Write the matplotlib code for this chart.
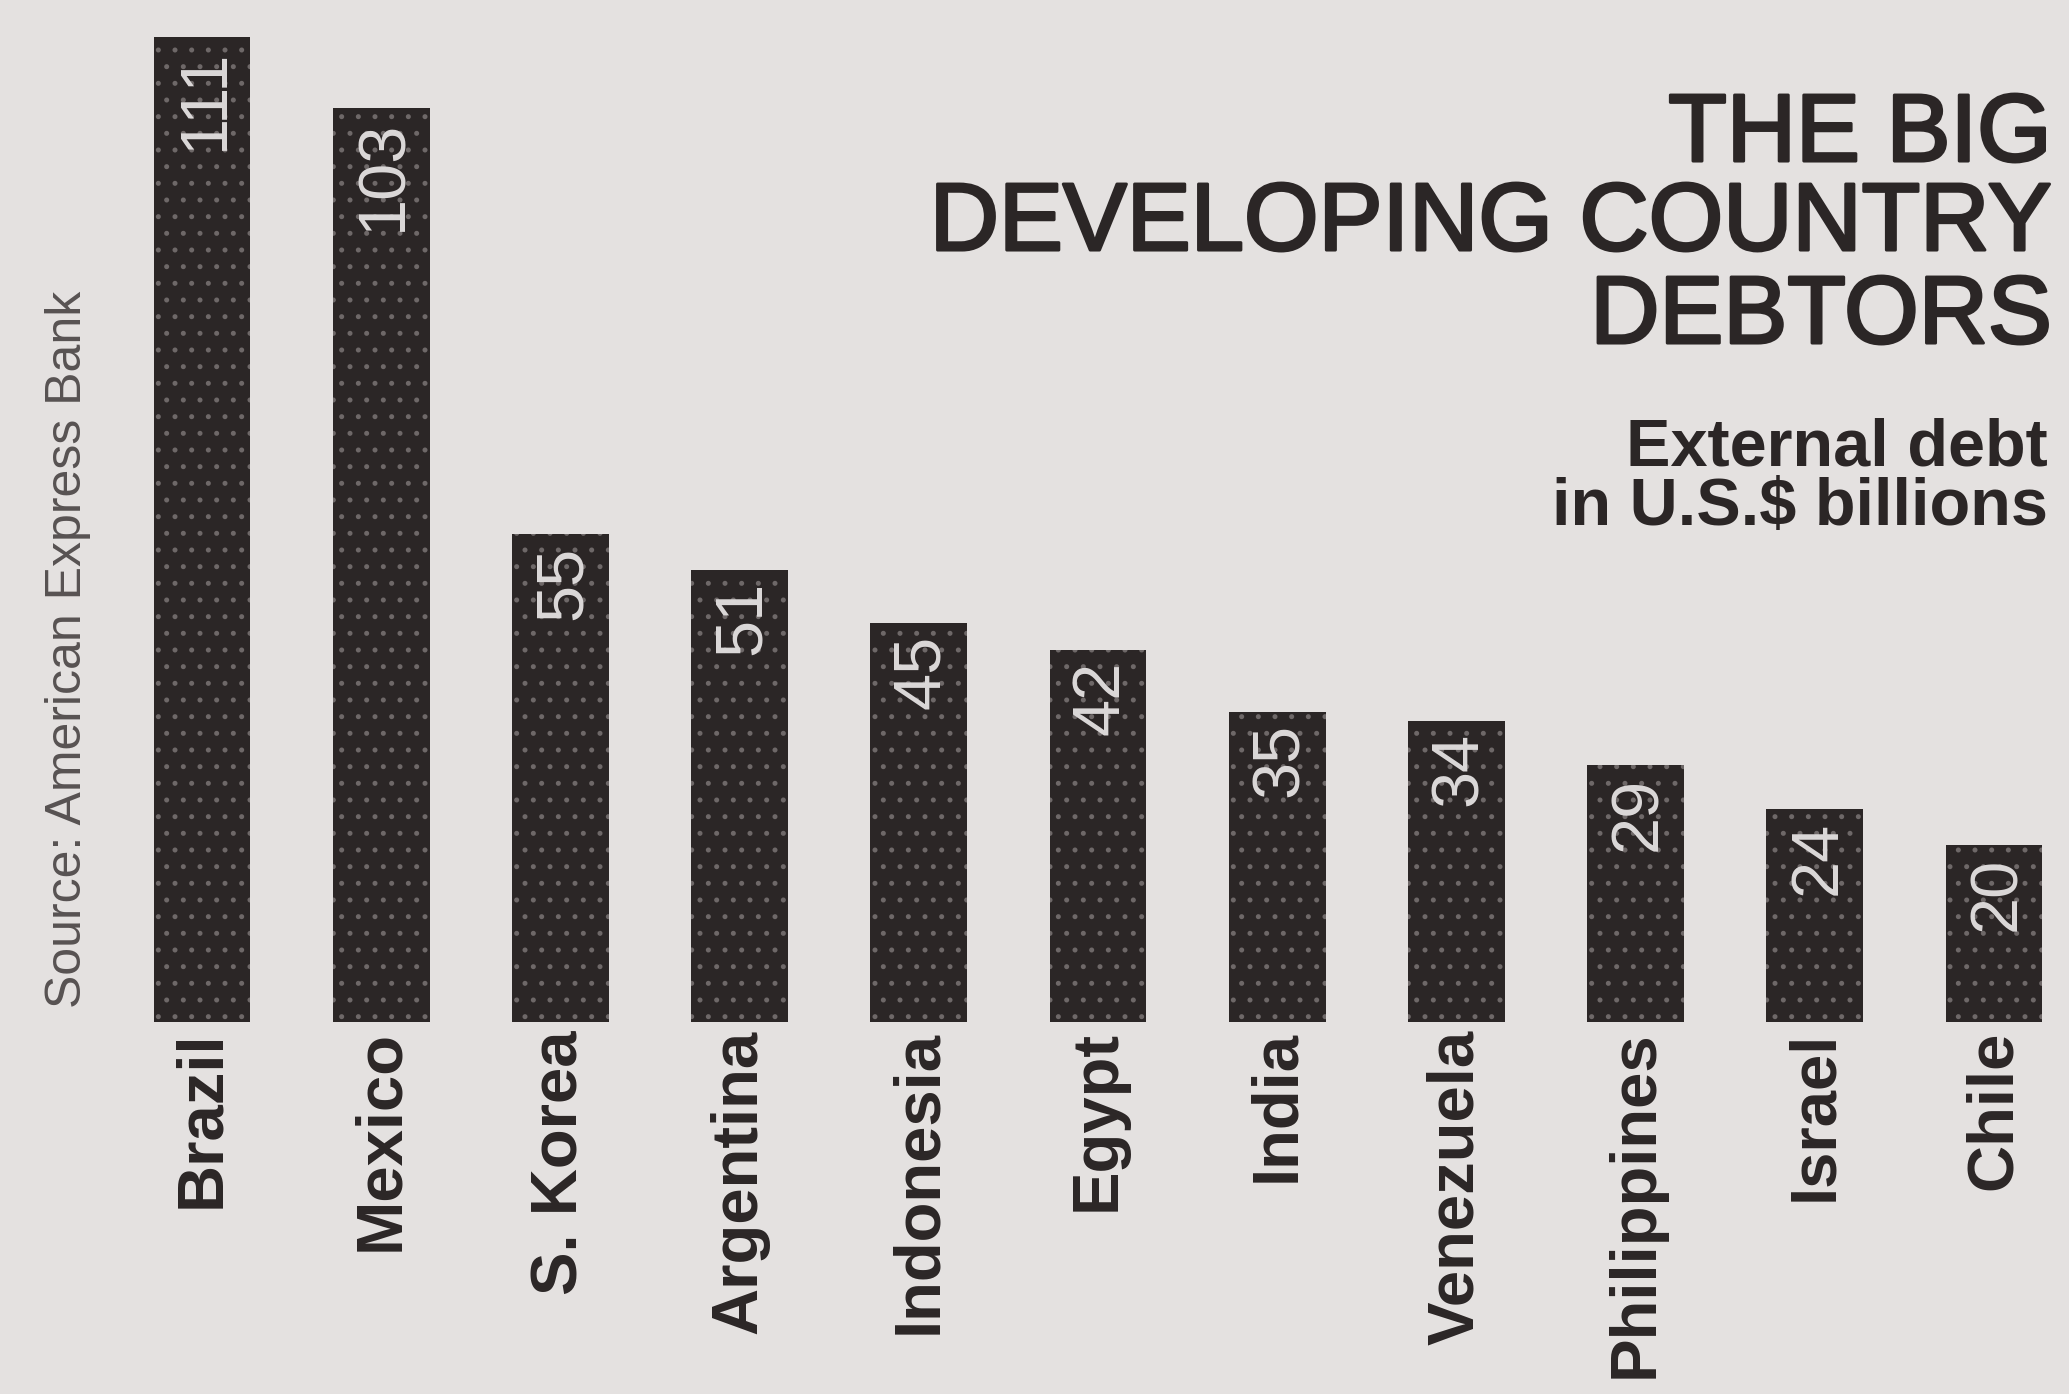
"""The big developing country debtors - external debt bar chart"""
import matplotlib
matplotlib.use('Agg')
import matplotlib.pyplot as plt
import matplotlib.patheffects as pe

COUNTRIES = ['Brazil', 'Mexico', 'S. Korea', 'Argentina', 'Indonesia', 'Egypt',
             'India', 'Venezuela', 'Philippines', 'Israel', 'Chile']
DEBT = [111, 103, 55, 51, 45, 42, 35, 34, 29, 24, 20]

TITLE_LINES = ['THE BIG', 'DEVELOPING COUNTRY', 'DEBTORS']
SUBTITLE_LINES = ['External debt', 'in U.S.$ billions']
SOURCE = 'Source: American Express Bank'

PAPER = '#e4e1e0'
INK = '#2b2626'

plt.rcParams['font.family'] = ['Liberation Sans', 'DejaVu Sans']
plt.rcParams['hatch.linewidth'] = 1.2

W, H = 2069, 1394
fig = plt.figure(figsize=(W / 100, H / 100), dpi=100, facecolor=PAPER)
ax = fig.add_axes([0, 0, 1, 1])
ax.set_facecolor(PAPER)

x = list(range(len(COUNTRIES)))
ax.bar(x, DEBT, width=0.54, color=INK, edgecolor='#6e6868', linewidth=0, hatch='.')

for xi, v, name in zip(x, DEBT, COUNTRIES):
    ax.text(xi + 0.02, v - 1.3, str(v), rotation=90, ha='center', va='top',
            fontsize=48, color='#dcd9d9')
    ax.text(xi, -0.9, name, rotation=90, ha='center', va='top',
            fontsize=47, fontweight='bold', color=INK)

ax.set_xlim(-1.127, 10.418)
ax.set_ylim(-41.9, 115.2)
ax.axis('off')

# title block, right aligned
thick = [pe.withStroke(linewidth=2.2, foreground=INK)]
for line, base in zip(TITLE_LINES, [161, 250, 343]):
    fig.text(2052 / W, 1 - base / H, line, ha='right', va='baseline',
             fontsize=69, color=INK, path_effects=thick)
for line, base in zip(SUBTITLE_LINES, [466, 525]):
    fig.text(2048 / W, 1 - base / H, line, ha='right', va='baseline',
             fontsize=48, fontweight='bold', color=INK)

fig.text(68 / W, 1 - 1008 / H, SOURCE, rotation=90, ha='center', va='bottom',
         fontsize=36, color='#575252')

fig.savefig('out.png', dpi=100, facecolor=PAPER)
